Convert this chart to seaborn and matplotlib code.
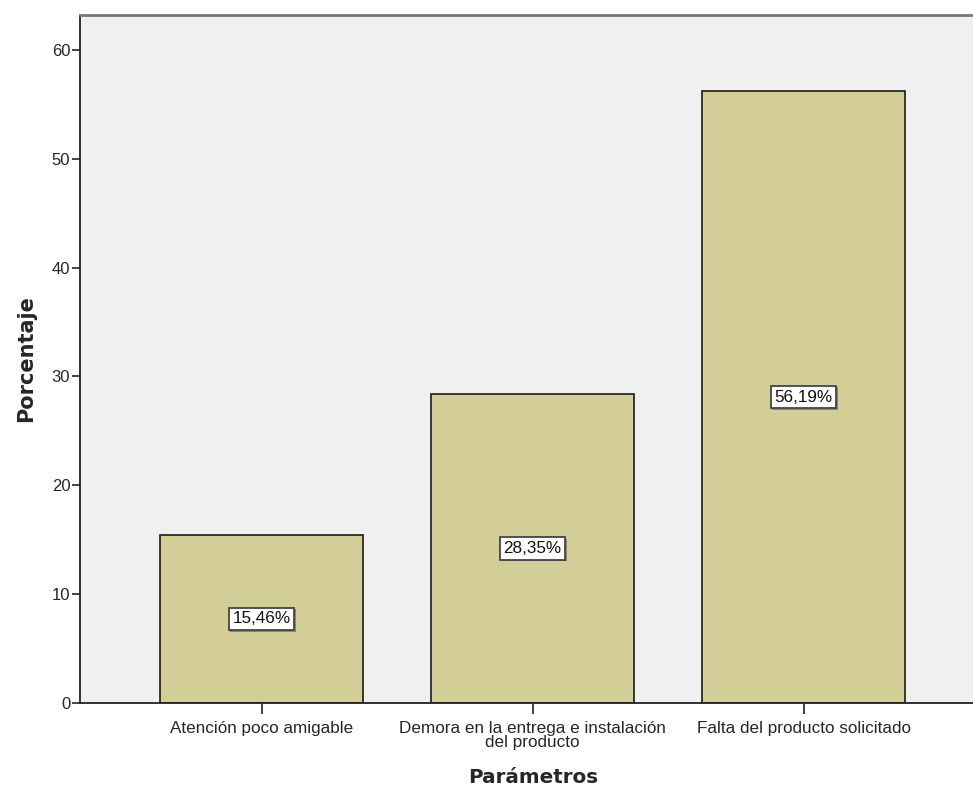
import matplotlib
matplotlib.use("Agg")
import matplotlib.pyplot as plt
import matplotlib.patheffects as pe
import seaborn as sns
import pandas as pd

categorias = ["Atención poco amigable",
              "Demora en la entrega e instalación\ndel producto",
              "Falta del producto solicitado"]
porcentajes = [15.46, 28.35, 56.19]
etiquetas = ["15,46%", "28,35%", "56,19%"]
y_ticks = [0, 10, 20, 30, 40, 50, 60]

df = pd.DataFrame({"Parámetros": categorias, "Porcentaje": porcentajes})

sns.set_style("white")
plt.rcParams["font.family"] = ["Liberation Sans", "DejaVu Sans"]

fig = plt.figure(figsize=(9.73, 7.9), dpi=100)
ax = fig.add_axes([0.0822, 0.1101, 0.9178, 0.8709])
ax.set_facecolor("#F0F0F0")

sns.barplot(data=df, x="Parámetros", y="Porcentaje", color="#D3CE97",
            saturation=1, width=0.75, edgecolor="#1a1a1a", linewidth=1.2, ax=ax)

for i, (v, t) in enumerate(zip(porcentajes, etiquetas)):
    txt = ax.text(i, v / 2, t, ha="center", va="center", fontsize=12.3,
                  color="#111111",
                  bbox=dict(boxstyle="square,pad=0.22", facecolor="white",
                            edgecolor="#444444", linewidth=1.3))
    txt.get_bbox_patch().set_path_effects(
        [pe.SimplePatchShadow(offset=(1, -1), shadow_rgbFace="#555555", alpha=0.6),
         pe.Normal()])

ax.set_xlim(-0.67, 2.625)
ax.set_ylim(0, 63.2)
ax.set_yticks(y_ticks)
ax.tick_params(axis="y", direction="out", length=6, width=1.2, color="#222222",
               labelsize=12, pad=1)
ax.tick_params(axis="x", direction="out", length=8, width=1.2, color="#222222",
               labelsize=12.3, pad=5)
ax.tick_params(left=True, bottom=True)
for lbl in ax.get_xticklabels():
    lbl.set_linespacing(0.95)

for s in ["left", "bottom"]:
    ax.spines[s].set_color("#222222")
    ax.spines[s].set_linewidth(1.3)
ax.spines["top"].set_color("#777777")
ax.spines["top"].set_linewidth(2)
ax.spines["right"].set_visible(False)

ax.set_ylabel("Porcentaje", fontsize=15, fontweight="bold", labelpad=11,
              family="DejaVu Sans")
ax.set_xlabel("Parámetros", fontsize=14.3, fontweight="bold", labelpad=15,
              family="DejaVu Sans")
ax.xaxis.set_label_coords(0.508, -0.095)

fig.savefig("out.png", dpi=100)
